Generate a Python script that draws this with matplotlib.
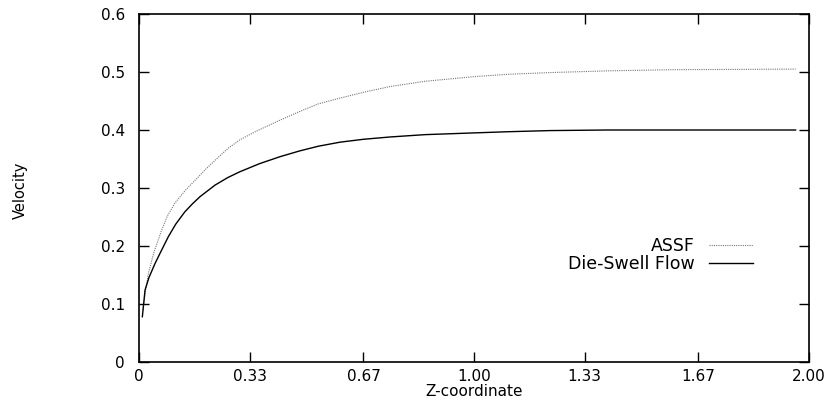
import matplotlib
matplotlib.use("Agg")
import matplotlib.pyplot as plt

# Data
z_die = [0.010, 0.018, 0.030, 0.048, 0.065, 0.0875, 0.110, 0.137, 0.160, 0.182,
         0.227, 0.265, 0.301, 0.360, 0.421, 0.480, 0.535, 0.600, 0.670, 0.750,
         0.854, 1.000, 1.100, 1.227, 1.400, 1.960]
v_die = [0.078, 0.124, 0.146, 0.170, 0.190, 0.216, 0.238, 0.259, 0.273, 0.285,
         0.305, 0.318, 0.328, 0.342, 0.354, 0.364, 0.372, 0.379, 0.384, 0.388,
         0.392, 0.395, 0.397, 0.399, 0.400, 0.400]

z_assf = [0.012, 0.020, 0.028, 0.045, 0.068, 0.085, 0.107, 0.140, 0.172, 0.200,
          0.235, 0.265, 0.301, 0.350, 0.421, 0.480, 0.535, 0.600, 0.670, 0.750,
          0.854, 1.000, 1.100, 1.227, 1.400, 1.600, 1.960]
v_assf = [0.090, 0.125, 0.153, 0.190, 0.228, 0.252, 0.274, 0.297, 0.316, 0.333,
          0.352, 0.368, 0.383, 0.398, 0.417, 0.432, 0.445, 0.455, 0.465, 0.475,
          0.484, 0.492, 0.496, 0.499, 0.502, 0.504, 0.505]

xticks = [0, 0.33, 0.67, 1.00, 1.33, 1.67, 2.00]
xticklabels = ["0", "0.33", "0.67", "1.00", "1.33", "1.67", "2.00"]
yticks = [0, 0.1, 0.2, 0.3, 0.4, 0.5, 0.6]
yticklabels = ["0", "0.1", "0.2", "0.3", "0.4", "0.5", "0.6"]

plt.rcParams['font.family'] = ['DejaVu Sans']

fig = plt.figure(figsize=(8.34, 4.01), dpi=100)
ax = fig.add_axes([139/834, 39/401, 670/834, 348/401])

ax.plot(z_assf, v_assf, color="#777777", lw=0.8, linestyle=(0, (1, 1)), label="ASSF")
ax.plot(z_die, v_die, color="black", lw=1.0, label="Die-Swell Flow")

ax.set_xlim(0, 2.0)
ax.set_ylim(0, 0.6)
ax.set_xticks(xticks)
ax.set_xticklabels(xticklabels)
ax.set_yticks(yticks)
ax.set_yticklabels(yticklabels)

ax.tick_params(direction="in", length=7, width=1.0, top=True, right=True,
               labelsize=11)
ax.tick_params(axis="y", pad=10)
ax.tick_params(axis="x", pad=5)
for s in ax.spines.values():
    s.set_linewidth(1.2)

fig.text(20/834, 1 - 190/401, "Velocity", rotation=90, fontsize=10.5,
         ha="center", va="center")

ax.legend(loc="upper right", bbox_to_anchor=(0.916, 0.36), frameon=False,
          markerfirst=False, fontsize=12.5, handlelength=2.5, handletextpad=0.85,
          labelspacing=0.02, borderpad=0, borderaxespad=0)

# place x label just below the tick labels
fig.canvas.draw()
renderer = fig.canvas.get_renderer()
bottoms = [t.get_window_extent(renderer).y0 for t in ax.get_xticklabels()]
ymin = min(bottoms) / fig.bbox.height
fig.text(ax.get_position().x0 + ax.get_position().width / 2, ymin,
         "Z-coordinate", fontsize=11, ha="center", va="top")

fig.savefig("out.png", dpi=100)
